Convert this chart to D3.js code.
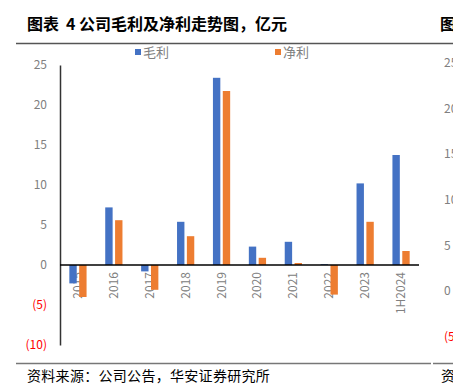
<!DOCTYPE html>
<html lang="zh">
  <head>
    <meta charset="UTF-8" />
    <title>公司毛利及净利走势图</title>
    <script src="https://d3js.org/d3.v7.min.js"></script>
    <style>
      body { margin: 0; background: #fff; }
      text { font-family: 'Noto Sans CJK SC', 'Noto Sans', sans-serif; }
    </style>
  </head>

  <body>
    <div id="graph"></div>
    <script>
      const categories = ['2015', '2016', '2017', '2018', '2019', '2020', '2021', '2022', '2023', '1H2024']
      const grossProfit = [-2.3, 7.2, -0.8, 5.4, 23.4, 2.3, 2.9, 0.1, 10.2, 13.75]
      const netProfit = [-4.0, 5.6, -3.1, 3.6, 21.75, 0.9, 0.25, -3.7, 5.4, 1.75]
      const seriesNames = ['毛利', '净利']
      const yTicks = [-10, -5, 0, 5, 10, 15, 20, 25]
      // 右侧被裁掉的下一张图的刻度
      const nextTicks = [-5, 0, 5, 10, 15, 20, 25]

      const colors = ['#4472C4', '#ED7D31']
      const W = 453, H = 388
      const svg = d3.select('#graph').append('svg').attr('width', W).attr('height', H)

      // 标题 + 分隔线
      const title = svg.append('text').attr('y', 30).attr('font-size', 16).attr('font-weight', 700).attr('fill', '#000')
      title.append('tspan').attr('x', 27).text('图表')
      title.append('tspan').attr('x', 66).text('4')
      title.append('tspan').attr('x', 79).text('公司毛利及净利走势图，亿元')
      svg.append('text').attr('x', 440).attr('y', 30).attr('font-size', 16).attr('font-weight', 700)
        .attr('fill', '#000').text('图')
      svg.append('line').attr('x1', 16).attr('x2', W).attr('y1', 43.5).attr('y2', 43.5)
        .attr('stroke', '#555').attr('stroke-width', 1.5)
      svg.append('line').attr('x1', 16).attr('x2', 431).attr('y1', 363.5).attr('y2', 363.5)
        .attr('stroke', '#777').attr('stroke-width', 1.5)
      svg.append('line').attr('x1', 433).attr('x2', W).attr('y1', 363.5).attr('y2', 363.5)
        .attr('stroke', '#777').attr('stroke-width', 1.5)
      svg.append('text').attr('x', 27).attr('y', 381).attr('font-size', 14).attr('letter-spacing', 0.3)
        .attr('fill', '#000').text('资料来源：公司公告，华安证券研究所')
      svg.append('text').attr('x', 441).attr('y', 381).attr('font-size', 14).attr('fill', '#000').text('资')

      // 比例尺
      const x = d3.scaleBand().domain(categories).range([60, 419]).paddingInner(0.52).paddingOuter(0.26)
      const xSub = d3.scaleBand().domain(seriesNames).range([0, x.bandwidth()]).paddingInner(0.25)
      const y = d3.scaleLinear().domain([-10, 25]).range([345, 65])

      const fmt = (d) => (d < 0 ? `(${-d})` : `${d}`)

      // y 轴刻度
      const yAxis = svg.append('g').attr('transform', 'translate(60,0)')
        .call(d3.axisLeft(y).tickValues(yTicks).tickFormat(fmt).tickSize(0).tickPadding(13))
      yAxis.select('.domain').attr('stroke', '#333').attr('stroke-width', 1.5)
      yAxis.selectAll('text').attr('font-size', 12).attr('font-family', "'Liberation Sans', Arial, sans-serif")
        .attr('fill', (d) => (d < 0 ? '#FF0000' : '#808080'))

      // x 轴标签（在柱子下面）
      svg.append('g').selectAll('text').data(categories).join('text')
        .attr('transform', (d) => `translate(${x(d) + x.bandwidth() / 2 + 4},${y(0) + 7}) rotate(-90)`)
        .attr('text-anchor', 'end').attr('font-size', 12)
        .attr('font-family', "'Liberation Sans', Arial, sans-serif").attr('fill', '#808080')
        .text((d) => d)

      // 柱子
      const rows = categories.map((c, i) => ({ c, v: [grossProfit[i], netProfit[i]] }))
      svg.append('g').selectAll('g').data(rows).join('g')
        .attr('transform', (d) => `translate(${x(d.c)},0)`)
        .selectAll('rect').data((d) => d.v.map((v, k) => ({ k, v })))
        .join('rect')
        .attr('x', (d) => xSub(seriesNames[d.k]))
        .attr('width', xSub.bandwidth())
        .attr('y', (d) => y(Math.max(0, d.v)))
        .attr('height', (d) => Math.abs(y(d.v) - y(0)))
        .attr('fill', (d) => colors[d.k])

      // 零线
      svg.append('line').attr('x1', 60).attr('x2', 419).attr('y1', y(0)).attr('y2', y(0))
        .attr('stroke', '#000').attr('stroke-width', 1.5)

      // 图例
      const legendX = [135, 275]
      const legend = svg.append('g').selectAll('g').data(seriesNames).join('g')
        .attr('transform', (_, i) => `translate(${legendX[i]},47)`)
      legend.append('rect').attr('width', 6).attr('height', 6).attr('y', 2).attr('fill', (_, i) => colors[i])
      legend.append('text').attr('x', 8).attr('y', 10).attr('font-size', 13).attr('fill', '#808080').text((d) => d)

      // 右侧下一张图的刻度
      const y2 = d3.scaleLinear().domain([-5, 25]).range([337, 63])
      svg.append('g').selectAll('text').data(nextTicks).join('text')
        .attr('x', 444).attr('y', (d) => y2(d) + 4).attr('font-size', 12)
        .attr('font-family', "'Liberation Sans', Arial, sans-serif")
        .attr('fill', (d) => (d < 0 ? '#FF0000' : '#808080'))
        .text(fmt)
    </script>
  </body>
</html>
